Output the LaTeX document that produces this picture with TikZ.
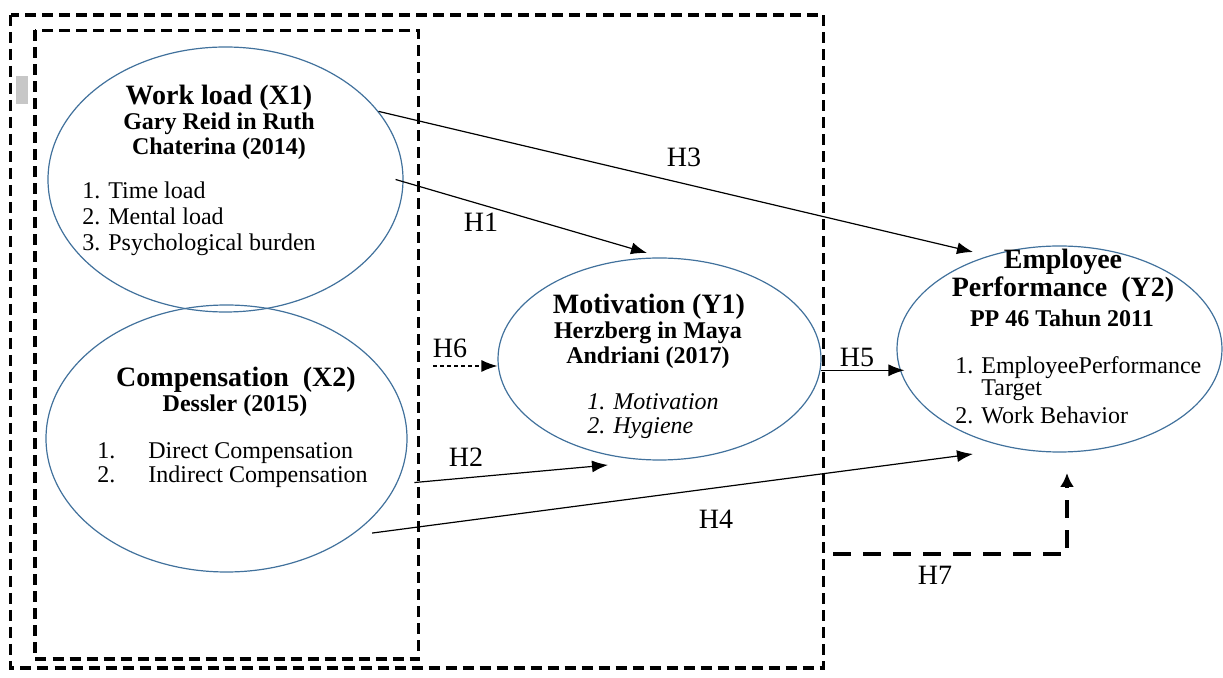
\documentclass[tikz,border=0pt]{standalone}
\usepackage{fontspec}
\setmainfont{Liberation Serif}
\usetikzlibrary{arrows.meta,shapes.geometric}
\definecolor{varblue}{RGB}{65,113,156}
\tikzset{
    var/.style={draw=varblue, line width=0.6pt, ellipse, inner sep=0pt},
    ttl/.style={font=\fontsize{14}{14}\selectfont\bfseries, align=center, inner sep=0pt},
    src/.style={font=\fontsize{12}{12.5}\selectfont\bfseries, align=center, inner sep=0pt},
    ind/.style={font=\fontsize{12}{13}\selectfont, align=left, anchor=west, inner sep=0pt},
    hyp/.style={font=\fontsize{14}{14}\selectfont, inner sep=0pt},
    dbox/.style={draw, line width=1.6pt, dash pattern=on 5.5pt off 3pt},
    hypo/.style={-{Latex[length=8pt,width=6pt]}, line width=0.6pt},
}
\begin{document}
\begin{tikzpicture}[x=0.5pt, y=-0.5pt]
            \useasboundingbox (0,0) rectangle (1223,678);
            \draw[dbox] (10.5,15) rectangle (823.5,668);
            \draw[dbox] (35,30.5) rectangle (418.5,659);
            \fill[black!22] (16,76) rectangle (28,104);

            \node[var, minimum width=177.5pt, minimum height=132.5pt] (wl) at (225.5,179.5) {};
            \node[var, minimum width=180.5pt, minimum height=133.5pt] (cp) at (226.5,438.5) {};
            \node[var, minimum width=161.5pt, minimum height=101pt] (mo) at (659.5,359) {};
            \node[var, minimum width=162.5pt, minimum height=103pt] (ep) at (1059.5,349) {};

            \node[ttl] (wl-t) at (219,98) {Work load (X1)};
            \node[src] (wl-s) at (219,136.5) {Gary Reid in Ruth\\Chaterina (2014)};
            \node[ind] (wl-i) at (82,219) {1. Time load\\2. Mental load\\3. Psychological burden};

            \node[ttl] (cp-t) at (236,380) {Compensation\ \ (X2)};
            \node[src] (cp-s) at (235,406) {Dessler (2015)};
            \node[ind, font=\fontsize{12}{12}\selectfont] (cp-i) at (97,465)
                {\makebox[25.5pt][l]{1.}Direct Compensation\\\makebox[25.5pt][l]{2.}Indirect Compensation};

            \node[ttl] (mo-t) at (649,307) {Motivation (Y1)};
            \node[src] (mo-s) at (648,345.5) {Herzberg in Maya\\Andriani (2017)};
            \node[ind, font=\fontsize{12}{12}\selectfont\itshape] (mo-i) at (587,416) {1. Motivation\\2. Hygiene};

            \node[ttl] (ep-t) at (1063,276) {Employee\\Performance\ \ (Y2)};
            \node[src] (ep-s) at (1062,318) {PP 46 Tahun 2011};
            \node[ind, font=\fontsize{12}{11}\selectfont] (ep-i) at (955,390)
                {1. EmployeePerformance\\\phantom{1. }Target\\[3pt]2. Work Behavior};

            \coordinate (h1end) at (647,253);
            \coordinate (h3end) at (973,252);
            \coordinate (h2end) at (608,465);
            \coordinate (h4end) at (973,454);
            \coordinate (h6start) at (433,366);
            \coordinate (h7start) at (833,554);
            \coordinate (h7end) at (1067,473);

            \node[hyp] (h1) at (481,222) {H1};
            \node[hyp] (h2) at (466,457) {H2};
            \node[hyp] (h3) at (684,157) {H3};
            \node[hyp] (h4) at (716,519) {H4};
            \node[hyp] (h5) at (857,357) {H5};
            \node[hyp] (h6) at (450,348) {H6};
            \node[hyp] (h7) at (935,575) {H7};

            \draw[hypo] ([xshift=-4pt]wl.east) to (h1end);
            \draw[hypo] (wl.24) to (h3end);
            \draw[hypo, shorten <=8.8pt] (cp.-15) to (h2end);
            \draw[hypo, shorten <=10.6pt] (cp.-38) to (h4end);
            \draw[hypo] (mo.-4) to ([xshift=4pt]ep.west |- mo.-4);
            \draw[hypo, dash pattern=on 2pt off 1.5pt] (h6start) to (h6start -| mo.west);
            \draw[-{Latex[length=7pt,width=7pt]}, line width=1.6pt, dash pattern=on 9pt off 6pt] (h7start) -| (h7end);
\end{tikzpicture}
\end{document}
